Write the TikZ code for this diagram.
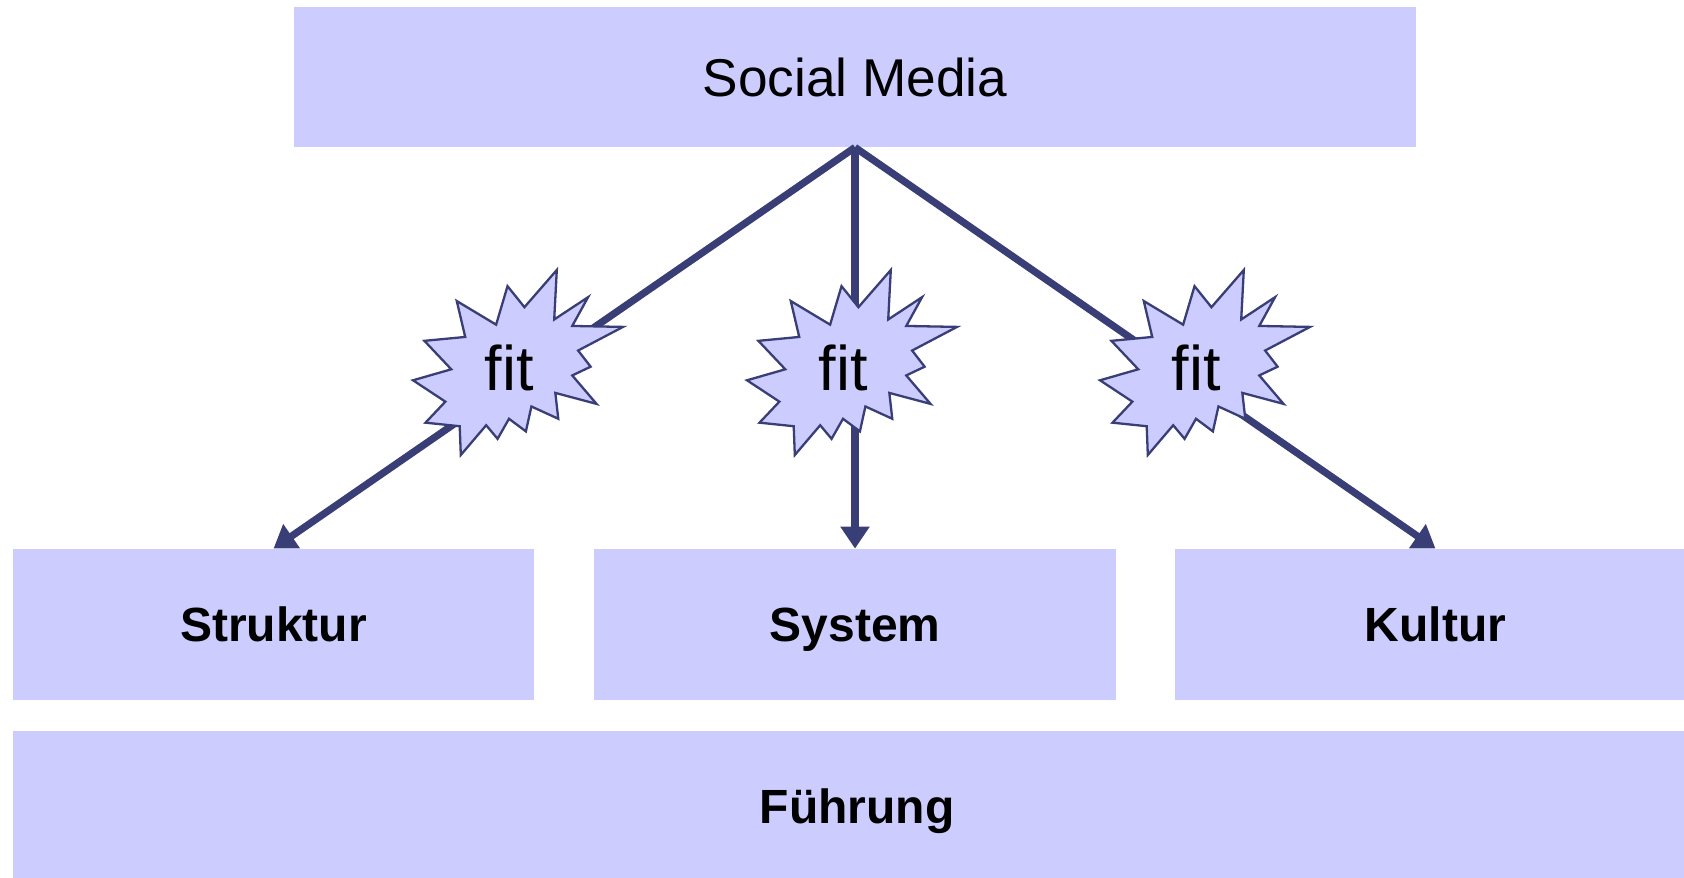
\documentclass[tikz,border=0pt]{standalone}
\usepackage{fontspec}
\setmainfont{Liberation Sans}
\usetikzlibrary{arrows.meta}

\definecolor{boxfill}{HTML}{CCCCFF}
\definecolor{linkcol}{HTML}{3A3E76}

\tikzset{
  block/.style={fill=boxfill, draw=none, inner sep=0pt,
    minimum height=75.5pt, text height=17.2pt, text depth=0pt,
    font=\fontsize{24pt}{28pt}\selectfont\bfseries},
  link/.style={draw=linkcol, line width=3.6pt,
    -{Triangle[length=11pt,width=14pt]}},
  burst/.style={fill=boxfill, draw=linkcol, line width=1.15pt, line join=miter},
  fitlabel/.style={inner sep=0pt, text height=22.8pt, text depth=0pt,
    font=\fontsize{31.5pt}{36pt}\selectfont},
  % explosion outline, 210 x 185 units, origin at its top left corner
  seal/.pic={
    \path[burst] (111.43,37.19) -- (143.79,0) -- (141.21,49.48) -- (175.06,27.17)
      -- (159.25,55.95) -- (210,56.91) -- (165.13,80.53) -- (177.62,96.70)
      -- (159.25,105.43) -- (183.52,133.89) -- (142.33,122.91) -- (145.27,148.77)
      -- (118.41,136.48) -- (112.89,161.38) -- (95.98,148.77) -- (84.58,168.83)
      -- (73.18,155.24) -- (47.80,185) -- (46.71,156.23) -- (12.49,152.67)
      -- (32.37,131.64) -- (0,110.29) -- (38.26,99.29) -- (11.39,70.83)
      -- (52.23,66.95) -- (43.77,31.05) -- (83.12,54.66) -- (94.52,16.16) -- cycle;
  }
}

\begin{document}
\begin{tikzpicture}[x=0.5pt, y=-0.5pt]
  \useasboundingbox (0,0) rectangle (1684,877);
  \clip (0,0) rectangle (1684,877);

  % boxes
  \node[block, minimum width=561pt, minimum height=69.75pt, text height=19.1pt,
        font=\fontsize{26.6pt}{32pt}\selectfont] (sm) at (855,77.25) {Social Media};
  \node[block, minimum width=260.5pt] (struk) at (273.5,624.5) {Struktur};
  \node[block, minimum width=261pt] (sys) at (855,624.5) {System};
  \node[block, minimum width=261pt] (kult) at (1435.5,624.5) {Kultur};
  \node[block, minimum width=844pt] (fuehr) at (857,806.5) {Führung};

  % connectors
  \draw[link] (sm.south) -- (struk.north);
  \draw[link] (sm.south) -- (sys.north);
  \draw[link] (sm.south) -- (kult.north);

  % fit bursts on top of the connectors
  \pic at (413,270) {seal};
  \pic at (747,270) {seal};
  \pic at (1100,270) {seal};
  \node[fitlabel] (fitA) at (509,367.5) {fit};
  \node[fitlabel] (fitB) at (843,367.5) {fit};
  \node[fitlabel] (fitC) at (1196,367.5) {fit};
\end{tikzpicture}
\end{document}
